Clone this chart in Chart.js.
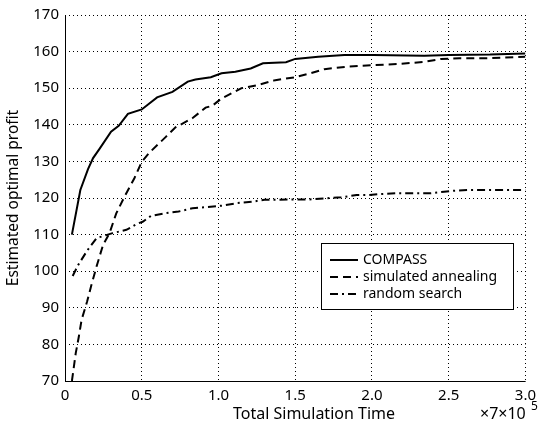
<!DOCTYPE html>
<html>
<head>
<meta charset="utf-8">
<script src="https://cdn.jsdelivr.net/npm/chart.js@4"></script>
<style>
  html, body { margin: 0; padding: 0; background: #fff; }
  #wrap { width: 542px; height: 429px; }
</style>
</head>
<body>
<div id="wrap"><canvas id="profit"></canvas></div>
<script>
// values (x in units of 7e5)
var compassX = [0.045, 0.10, 0.15, 0.183, 0.226, 0.30, 0.35, 0.41, 0.50, 0.60, 0.70, 0.80, 0.85, 0.95, 1.02, 1.11, 1.21, 1.29, 1.44, 1.50, 1.65, 1.82, 2.01, 2.34, 2.50, 2.77, 3.0];
var compassY = [110, 122.2, 127.9, 130.9, 133.5, 138.1, 139.7, 143, 144.2, 147.5, 149, 151.8, 152.4, 153, 154.1, 154.5, 155.4, 156.8, 157.1, 158, 158.6, 159.1, 159.1, 158.9, 159.1, 159.2, 159.5];

var annealX = [0.045, 0.07, 0.09, 0.108, 0.144, 0.172, 0.205, 0.248, 0.29, 0.334, 0.388, 0.452, 0.50, 0.55, 0.657, 0.72, 0.83, 0.916, 0.96, 1.02, 1.15, 1.26, 1.37, 1.50, 1.60, 1.69, 1.84, 2.01, 2.17, 2.34, 2.45, 2.57, 2.77, 3.0];
var annealY = [70, 77.6, 82.1, 86.7, 91.7, 96.2, 101.2, 107.2, 110.4, 115.8, 120.4, 125.4, 129.9, 132.4, 136.7, 139.3, 141.8, 144.7, 145.2, 147.2, 150, 150.9, 152.2, 153, 154.1, 155.2, 155.9, 156.3, 156.6, 157.2, 158, 158.2, 158.2, 158.6];

var randomX = [0.05, 0.086, 0.144, 0.205, 0.226, 0.31, 0.40, 0.467, 0.506, 0.56, 0.646, 0.74, 0.83, 0.916, 1.02, 1.12, 1.22, 1.30, 1.50, 1.59, 1.69, 1.80, 1.90, 1.98, 2.06, 2.17, 2.27, 2.38, 2.47, 2.54, 2.64, 2.81, 3.0];
var randomY = [98.7, 101.7, 105.6, 109, 109.3, 110.4, 111.3, 112.9, 113.5, 115.1, 115.8, 116.3, 117.2, 117.5, 117.9, 118.6, 119, 119.5, 119.6, 119.6, 119.9, 120.2, 120.8, 120.8, 121.1, 121.3, 121.3, 121.3, 121.7, 122, 122.2, 122.2, 122.2];

var seriesNames = ['COMPASS', 'simulated annealing', 'random search'];
var seriesDash = [[], [8, 5], [8, 4, 2, 4]];

var FONT = '"Noto Sans", sans-serif';

var toPoints = function(xs, ys) {
    var pts = [];
    for (let i = 0; i < xs.length; i++) {
        pts.push({x: xs[i], y: ys[i]});
    }
    return pts;
};

var xs = [compassX, annealX, randomX];
var ys = [compassY, annealY, randomY];
var datasets = [];
for (let i = 0; i < 3; i++) {
    datasets.push({
        label: seriesNames[i],
        data: toPoints(xs[i], ys[i]),
        borderColor: '#000',
        borderWidth: 2,
        borderDash: seriesDash[i],
        pointRadius: 0,
        showLine: true,
        tension: 0
    });
}

// legend box, axis lines and x caption drawn on top
var extras = {
    id: 'extras',
    afterDraw: function(chart) {
        var c = chart.ctx;
        var area = chart.chartArea;
        c.save();
        c.strokeStyle = '#000';
        c.lineWidth = 1;
        c.setLineDash([]);
        c.beginPath();
        c.moveTo(area.left + 0.5, area.top);
        c.lineTo(area.left + 0.5, area.bottom + 0.5);
        c.lineTo(area.right, area.bottom + 0.5);
        c.stroke();

        // legend
        var bx = 321, by = 243, bw = 192, bh = 66;
        c.fillStyle = '#fff';
        c.fillRect(bx, by, bw, bh);
        c.strokeRect(bx + 0.5, by + 0.5, bw, bh);
        c.font = '14px ' + FONT;
        c.textBaseline = 'middle';
        for (let i = 0; i < 3; i++) {
            var ly = by + 17 + i * 17;
            c.setLineDash(seriesDash[i]);
            c.lineWidth = 2;
            c.beginPath();
            c.moveTo(bx + 9, ly);
            c.lineTo(bx + 37, ly);
            c.stroke();
            c.setLineDash([]);
            c.fillStyle = '#000';
            c.fillText(seriesNames[i], bx + 42, ly);
        }

        // x caption and multiplier
        c.fillStyle = '#000';
        c.textBaseline = 'alphabetic';
        c.font = '16px ' + FONT;
        c.textAlign = 'center';
        c.fillText('Total Simulation Time', 314, 419);
        c.textAlign = 'left';
        c.font = '16px ' + FONT;
        c.fillText('\u00d77\u00d710', 480, 419);
        c.font = '12px ' + FONT;
        c.fillText('5', 531, 410);
        c.restore();
    }
};

new Chart(document.getElementById('profit'), {
    type: 'scatter',
    data: { datasets: datasets },
    options: {
        responsive: true,
        maintainAspectRatio: false,
        animation: false,
        layout: { padding: { left: 0, right: 13, top: 15, bottom: 0 } },
        plugins: { legend: { display: false }, tooltip: { enabled: false } },
        scales: {
            x: {
                type: 'linear',
                min: 0, max: 3,
                afterFit: function(s) { s.height = 48; },
                border: { display: false, dash: [1, 3] },
                grid: { color: '#000', lineWidth: 1, tickLength: 0 },
                ticks: {
                    stepSize: 0.5, color: '#000', padding: 6,
                    font: { family: FONT, size: 15 },
                    callback: function(v) { return v === 0 ? '0' : v.toFixed(1); }
                }
            },
            y: {
                min: 70, max: 170,
                afterFit: function(s) { s.width = 65; },
                border: { display: false, dash: [1, 3] },
                grid: { color: '#000', lineWidth: 1, tickLength: 0 },
                ticks: {
                    stepSize: 10, color: '#000', padding: 6,
                    font: { family: FONT, size: 15 }
                },
                title: {
                    display: true, text: 'Estimated optimal profit', color: '#000',
                    font: { family: FONT, size: 15.5 }, padding: { bottom: 0 }
                }
            }
        }
    },
    plugins: [extras]
});
</script>
</body>
</html>
